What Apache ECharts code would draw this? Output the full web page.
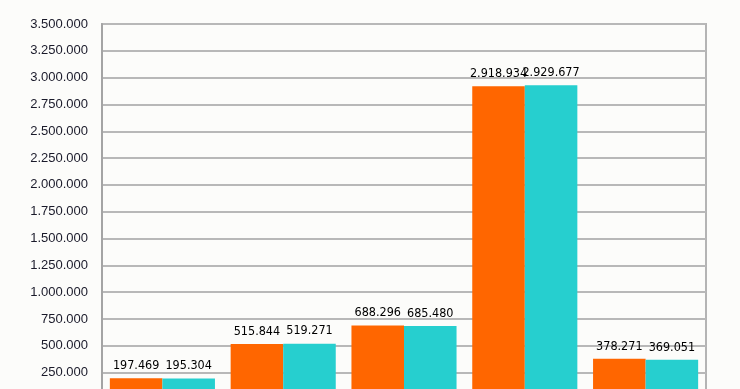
<!DOCTYPE html>
<html><head><meta charset="utf-8">
<script src="https://cdn.jsdelivr.net/npm/echarts@6/dist/echarts.min.js"></script>
<style>html,body{margin:0;padding:0;background:#fcfcfa;}#c{width:740px;height:389px;}</style>
</head><body><div id="c"></div>
<script>
var categories = ['A', 'B', 'C', 'D', 'E'];
var seriesOrange = [197469, 515844, 688296, 2918934, 378271];
var seriesCyan = [195304, 519271, 685480, 2929677, 369051];
var yTicks = {min: 0, max: 3500000, interval: 250000};

function fmt(v){ return String(v).replace(/\B(?=(\d{3})+(?!\d))/g, '.'); }

var chart = echarts.init(document.getElementById('c'));
var labelStyle = {show: true, position: 'top', distance: 6, color: '#000', fontFamily: 'DejaVu Sans Condensed, sans-serif', fontSize: 12.5, formatter: function(p){ return fmt(p.value); }};
chart.setOption({
  backgroundColor: '#fcfcfa',
  animation: false,
  grid: {left: 102, right: 34, top: 24, height: 375.4, containLabel: false, outerBoundsMode: 'none', show: true, borderColor: '#b4b4b4', borderWidth: 2},
  xAxis: {type: 'category', data: categories, axisLine: {show: false}, axisTick: {show: false}, axisLabel: {show: false}},
  yAxis: {type: 'value', min: yTicks.min, max: yTicks.max, interval: yTicks.interval,
    axisLine: {show: true, lineStyle: {color: '#a4a4a4', width: 2}}, axisTick: {show: false},
    axisLabel: {color: '#1a1a2a', fontFamily: 'Liberation Sans, Arial, sans-serif', fontSize: 13, margin: 14, formatter: fmt},
    splitLine: {lineStyle: {color: '#b8b8b8', width: 2}}},
  series: [
    {type: 'bar', data: seriesOrange, itemStyle: {color: '#ff6600'}, barGap: '0%', barCategoryGap: '13%', label: labelStyle},
    {type: 'bar', data: seriesCyan, itemStyle: {color: '#26cfcf'}, barGap: '0%', barCategoryGap: '13%', label: labelStyle}
  ]
});
</script></body></html>
